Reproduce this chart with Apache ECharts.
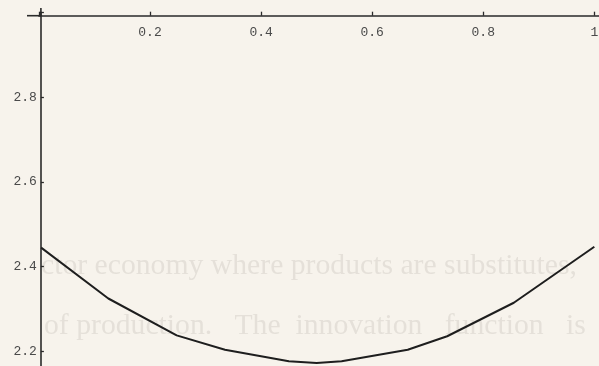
<!DOCTYPE html>
<html>
<head>
<meta charset="utf-8">
<style>
  html, body { margin: 0; padding: 0; background: #f7f3ec; }
  #chart { width: 599px; height: 366px; }
</style>
<script src="https://cdn.jsdelivr.net/npm/echarts@6/dist/echarts.min.js"></script>
</head>
<body>
<div id="chart"></div>
<script>
// Sampled points of the U-shaped curve (x in [0, 1])
const xValues = [0.004, 0.125, 0.248, 0.335, 0.45, 0.5, 0.545, 0.664, 0.735, 0.855, 1.0];
const yValues = [2.445, 2.325, 2.238, 2.204, 2.177, 2.173, 2.177, 2.204, 2.236, 2.315, 2.447];

// Labelled ticks
const xTickLabels = [0.2, 0.4, 0.6, 0.8, 1];
const yTickLabels = [2.2, 2.4, 2.6, 2.8];

// Text showing through from the page behind
const ghostLines = [
  'ctor economy where products are substitutes,',
  'of production.   The  innovation   function   is'
];

const chart = echarts.init(document.getElementById('chart'), null, { renderer: 'canvas' });

const points = xValues.map((x, i) => [x, yValues[i]]);
const monoFont = 'Liberation Mono, Courier New, monospace';
const axisColor = '#2a2a2a';

chart.setOption({
  backgroundColor: '#f7f3ec',
  animation: false,
  // plot area runs past the bottom edge so that the visible window is 2.166 .. 2.99
  grid: {
    left: 38.9, top: 12.3, width: 561, height: 424,
    outerBoundsMode: 'none', containLabel: false
  },
  xAxis: {
    type: 'value',
    position: 'top',
    offset: -3.4,
    min: 0,
    max: 1.01,
    interval: 0.2,
    splitLine: { show: false },
    axisLine: { show: true, lineStyle: { color: axisColor, width: 1.6 } },
    axisTick: { show: true, inside: false, length: 4, lineStyle: { color: axisColor, width: 1.3 } },
    axisLabel: {
      show: true,
      inside: true,
      margin: 10,
      fontFamily: monoFont,
      fontSize: 13,
      color: '#4a4a4a',
      formatter: v => (xTickLabels.some(t => Math.abs(t - v) < 1e-9) ? String(+v.toFixed(1)) : '')
    }
  },
  yAxis: {
    type: 'value',
    position: 'left',
    offset: -2,
    min: 2.0,
    max: 3.0,
    interval: 0.2,
    splitLine: { show: false },
    axisLine: { show: true, lineStyle: { color: axisColor, width: 1.6 } },
    axisTick: { show: true, inside: true, length: 3, lineStyle: { color: axisColor, width: 1.3 } },
    axisLabel: {
      show: true,
      margin: 4,
      fontFamily: monoFont,
      fontSize: 13,
      color: '#4a4a4a',
      formatter: v => (yTickLabels.some(t => Math.abs(t - v) < 1e-9) ? v.toFixed(1) : '')
    }
  },
  series: [{
    type: 'line',
    data: points,
    showSymbol: false,
    smooth: false,
    clip: true,
    lineStyle: { color: '#1e1e1e', width: 2 },
    z: 5
  }],
  graphic: [
    // show-through text from the reverse page
    {
      type: 'text', left: 41, top: 251, z: -10, silent: true,
      style: { text: ghostLines[0], font: '29.7px "Liberation Serif", serif', fill: 'rgba(95,90,85,0.12)' }
    },
    {
      type: 'text', left: 44, top: 311, z: -10, silent: true,
      style: { text: ghostLines[1], font: '29.7px "Liberation Serif", serif', fill: 'rgba(95,90,85,0.12)' }
    },
    // axis overhangs past the origin
    {
      type: 'line', z: 10, silent: true,
      shape: { x1: 27, y1: 15.7, x2: 41, y2: 15.7 },
      style: { stroke: axisColor, lineWidth: 1.6 }
    },
    {
      type: 'line', z: 10, silent: true,
      shape: { x1: 40.9, y1: 8, x2: 40.9, y2: 16 },
      style: { stroke: axisColor, lineWidth: 1.6 }
    }
  ]
});
</script>
</body>
</html>
